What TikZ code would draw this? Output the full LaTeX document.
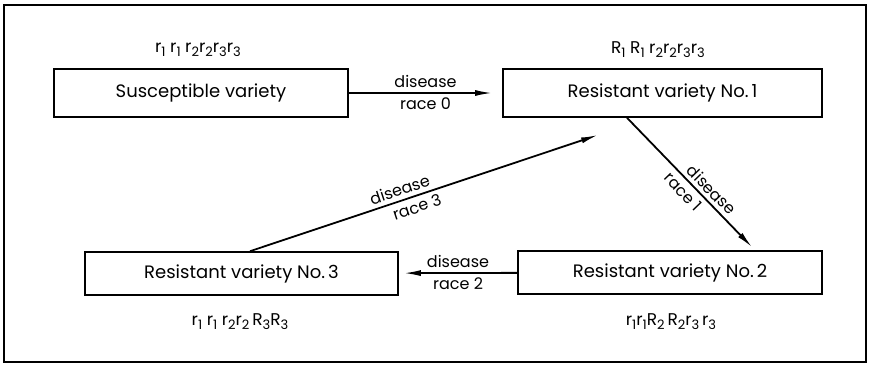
\documentclass[tikz,border=0pt]{standalone}
\usepackage{fontspec}
\setmainfont{Poppins}
\usetikzlibrary{arrows.meta}
\tikzset{
  variety/.style={draw,line width=1.6pt,inner sep=0pt,font=\fontsize{18}{21}\selectfont},
  genotype/.style={font=\fontsize{17}{20}\selectfont},
  race/.style={font=\fontsize{16}{19}\selectfont,inner sep=4pt},
  infect/.style={line width=1.8pt,-{Latex[length=17pt,width=6pt]}}
}
\newcommand{\gn}[2]{#1\raisebox{-0.45ex}{\fontsize{13}{13}\selectfont #2}}
\begin{document}
\begin{tikzpicture}[x=1pt,y=-1pt]
\useasboundingbox (0,0) rectangle (872,367);
\draw[line width=1.2pt] (4,5) rectangle (866,362);
% varieties
\node[variety,minimum width=294pt,minimum height=48pt] (sus) at (201,93) {Susceptible variety};
\node[variety,minimum width=319pt,minimum height=48pt] (res1) at (662.5,93) {Resistant variety No.\,1};
\node[variety,minimum width=304pt,minimum height=43pt] (res2) at (670,272.5) {Resistant variety No.\,2};
\node[variety,minimum width=313pt,minimum height=43pt] (res3) at (241.5,273.5) {Resistant variety No.\,3};
% genotypes
\node[genotype] (gsus) at (198,50) {\gn{r}{1} \gn{r}{1} \gn{r}{2}\gn{r}{2}\gn{r}{3}\gn{r}{3}};
\node[genotype] (gres1) at (658,50) {\gn{R}{1} \gn{R}{1} \gn{r}{2}\gn{r}{2}\gn{r}{3}\gn{r}{3}};
\node[genotype] (gres2) at (671,322) {\gn{r}{1}\gn{r}{1}\gn{R}{2}\,\gn{R}{2}\gn{r}{3}\,\gn{r}{3}};
\node[genotype] (gres3) at (240,322) {\gn{r}{1} \gn{r}{1} \gn{r}{2}\gn{r}{2}\,\gn{R}{3}\gn{R}{3}};
% disease races
\coordinate (top3) at (598,135);
\draw[infect,shorten >=10pt] (sus) -- node[race,above] {disease} node[race,below] {race 0} (res1);
\draw[infect,shorten >=4pt] ([xshift=-35.5pt]res1.south) -- node[race,sloped,above,pos=0.6] {disease} node[race,sloped,below,pos=0.5] {race 1} ([xshift=85pt]res2.north);
\draw[infect,shorten >=5pt] (res2) -- node[race,above] {disease} node[race,below] {race 2} (res3);
\draw[infect] ([xshift=8.5pt]res3.north) -- node[race,sloped,above,pos=0.44] {disease} node[race,sloped,below,pos=0.47] {race 3} (top3);
\end{tikzpicture}
\end{document}
